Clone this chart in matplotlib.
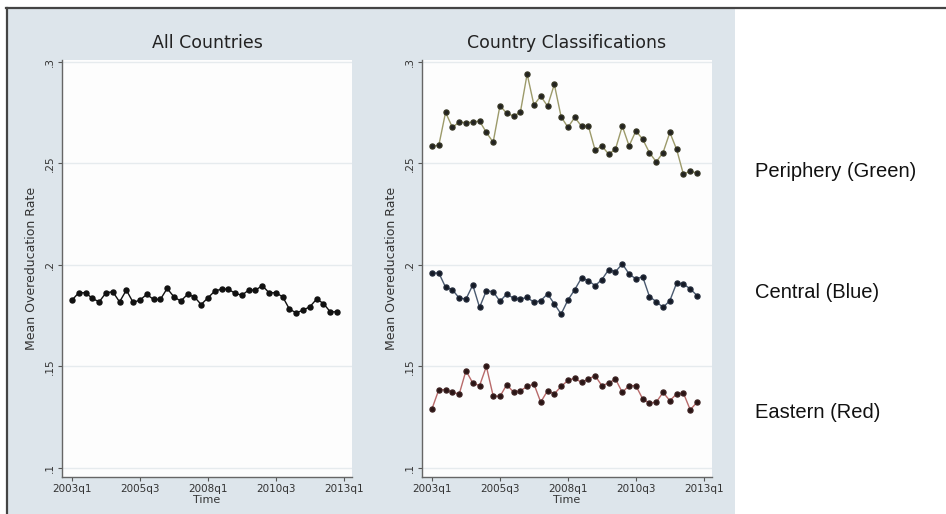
import matplotlib
matplotlib.use("Agg")
import matplotlib.pyplot as plt
from matplotlib.patches import Rectangle
from matplotlib.lines import Line2D
import numpy as np

# ---- data (quarterly, 2003q1 .. 2012q4) ----
quarters = [f"{y}q{q}" for y in range(2003, 2013) for q in range(1, 5)]
all_countries = [0.1827, 0.1863, 0.1863, 0.1835, 0.1818, 0.1863, 0.1868, 0.1818,
                 0.1876, 0.1815, 0.1827, 0.1855, 0.1830, 0.1830, 0.1884, 0.1843,
                 0.1822, 0.1855, 0.1843, 0.1805, 0.1838, 0.1871, 0.1881, 0.1881,
                 0.1860, 0.1851, 0.1876, 0.1876, 0.1898, 0.1863, 0.1863, 0.1843,
                 0.1782, 0.1764, 0.1777, 0.1794, 0.1832, 0.1810, 0.1769, 0.1769]
periphery = [0.2586, 0.2589, 0.2752, 0.2678, 0.2704, 0.2701, 0.2704, 0.2709,
             0.2653, 0.2605, 0.2785, 0.2747, 0.2734, 0.2752, 0.2941, 0.2788,
             0.2832, 0.2783, 0.2890, 0.2730, 0.2678, 0.2727, 0.2684, 0.2686,
             0.2566, 0.2586, 0.2546, 0.2571, 0.2684, 0.2587, 0.2660, 0.2620,
             0.2553, 0.2508, 0.2554, 0.2653, 0.2569, 0.2446, 0.2464, 0.2451]
central = [0.1959, 0.1961, 0.1890, 0.1878, 0.1837, 0.1832, 0.1901, 0.1791,
           0.1873, 0.1868, 0.1821, 0.1857, 0.1836, 0.1832, 0.1840, 0.1816,
           0.1824, 0.1857, 0.1808, 0.1758, 0.1827, 0.1878, 0.1936, 0.1923,
           0.1898, 0.1928, 0.1977, 0.1967, 0.2005, 0.1956, 0.1931, 0.1942,
           0.1844, 0.1819, 0.1791, 0.1824, 0.1911, 0.1906, 0.1882, 0.1849]
eastern = [0.1291, 0.1385, 0.1385, 0.1373, 0.1363, 0.1479, 0.1418, 0.1405,
           0.1500, 0.1355, 0.1352, 0.1410, 0.1373, 0.1380, 0.1401, 0.1413,
           0.1324, 0.1380, 0.1365, 0.1401, 0.1431, 0.1442, 0.1421, 0.1438,
           0.1454, 0.1405, 0.1418, 0.1438, 0.1372, 0.1405, 0.1405, 0.1340,
           0.1319, 0.1324, 0.1372, 0.1331, 0.1365, 0.1368, 0.1286, 0.1324]
y_ticks = [0.10, 0.15, 0.20, 0.25, 0.30]
y_ticklabels = [".1", ".15", ".2", ".25", ".3"]
x_ticklabels = ["2003q1", "2005q3", "2008q1", "2010q3", "2013q1"]
legend_labels = ["Periphery (Green)", "Central (Blue)", "Eastern (Red)"]
titles = ["All Countries", "Country Classifications"]

W, H = 946, 514
fig = plt.figure(figsize=(W / 100, H / 100), dpi=100)
fig.patch.set_facecolor("white")

# graph region background + border
bg = Rectangle((8 / W, 0), (735 - 8) / W, 1 - 8 / H,
               transform=fig.transFigure, facecolor="#dde5eb",
               edgecolor="none", zorder=-10)
fig.add_artist(bg)
fig.add_artist(Line2D([6 / W, 1], [1 - 8 / H, 1 - 8 / H], transform=fig.transFigure,
                      color="#444444", lw=1.6, zorder=5))
fig.add_artist(Line2D([7 / W, 7 / W], [0, 1 - 8 / H], transform=fig.transFigure,
                      color="#444444", lw=1.6, zorder=5))

x = np.arange(len(quarters))
tick_pos = [quarters.index(q) if q in quarters else 40 for q in x_ticklabels]

def style_axis(ax, title):
    ax.set_facecolor("#fdfdfd")
    ax.set_xlim(-1.47, 41.2)
    ax.set_ylim(0.0955, 0.301)
    ax.set_yticks(y_ticks)
    ax.set_yticklabels(y_ticklabels, rotation=90, va="center", fontsize=7.5, color="#333333")
    ax.set_xticks(tick_pos)
    ax.set_xticklabels(x_ticklabels, fontsize=7.5, color="#333333")
    for s in ["top", "right"]:
        ax.spines[s].set_visible(False)
    for s in ["left", "bottom"]:
        ax.spines[s].set_color("#666666")
        ax.spines[s].set_linewidth(1.0)
    ax.tick_params(axis="both", length=3, width=0.8, color="#555555", pad=2)
    ax.grid(axis="y", color="#e6ebee", lw=1.0)
    ax.set_axisbelow(True)
    ax.set_title(title, fontsize=12.5, color="#222222", pad=9)
    ax.set_ylabel("Mean Overeducation Rate", fontsize=9, color="#333333", labelpad=5)
    ax.set_xlabel("Time", fontsize=8, color="#333333", labelpad=1)

axL = fig.add_axes([62 / W, 1 - 477 / H, (352 - 62) / W, (477 - 60) / H])
style_axis(axL, titles[0])
axL.plot(x, all_countries, color="#111111", lw=1.0, marker="o", ms=3.6,
         mfc="#111111", mec="#111111")

axR = fig.add_axes([422 / W, 1 - 477 / H, (712 - 422) / W, (477 - 60) / H])
style_axis(axR, titles[1])
axR.plot(x, periphery, color="#9c9a6a", lw=1.0, marker="o", ms=3.6,
         mfc="#222222", mec="#333322")
axR.plot(x, central, color="#4a5a70", lw=1.0, marker="o", ms=3.6,
         mfc="#151a25", mec="#202838")
axR.plot(x, eastern, color="#b86a6a", lw=1.0, marker="o", ms=3.6,
         mfc="#2a1515", mec="#3a2020")

for lab, yy in zip(legend_labels, [172, 292, 412]):
    fig.text(755 / W, 1 - yy / H, lab, fontsize=14.5, va="center", ha="left",
             color="#111111", family="Liberation Sans")

fig.savefig("out.png", dpi=100, facecolor="white")
